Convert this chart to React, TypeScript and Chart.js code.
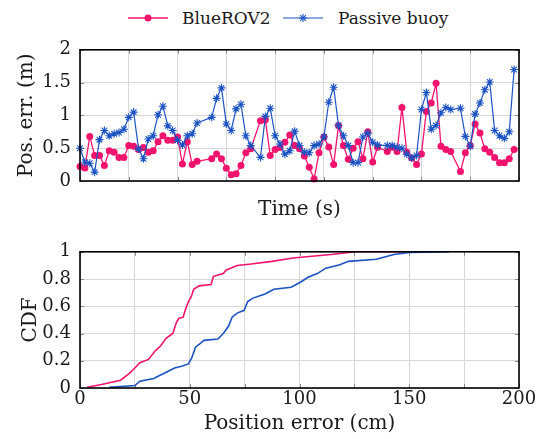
import React, { useEffect, useRef } from 'react';
import { Chart, registerables } from 'chart.js';

Chart.register(...registerables);

const FONT = "'DejaVu Serif'";
const PINK = '#f2136e';
const BLUE = '#1a52c2';
const GRID = '#d8d8d8';
const TEXT = '#1a1a1a';

// Top chart: time (s) and position error (m)
const timeS = [
  0, 5, 10, 15, 20, 25, 30, 35, 40, 45, 50, 55, 60, 65, 70, 75, 80, 85, 90, 95, 100, 105, 110, 115, 120,
  135, 140, 145, 150, 155, 160, 165, 170, 175,
  185, 190, 195, 200, 205, 210, 215, 220, 225, 230, 235, 240, 245, 250, 255, 260, 265, 270, 275, 280, 285, 290, 295, 300, 305,
  315, 320, 325, 330, 335, 340, 345, 350, 355, 360, 365, 370, 375, 380,
  390, 395, 400, 405, 410, 415, 420, 425, 430, 435, 440, 445,
];

const rovErr = [
  0.22, 0.2, 0.68, 0.39, 0.39, 0.235, 0.46, 0.44, 0.36, 0.36, 0.54, 0.53, 0.48, 0.51, 0.44, 0.46, 0.6, 0.69, 0.62, 0.62, 0.67, 0.26, 0.6, 0.25, 0.3,
  0.34, 0.41, 0.34, 0.195, 0.095, 0.11, 0.235, 0.43, 0.49,
  0.92, 0.935, 0.39, 0.48, 0.51, 0.59, 0.7, 0.54, 0.49, 0.38, 0.21, 0.03, 0.43, 0.67, 0.52, 0.25, 0.845, 0.54, 0.33, 0.5, 0.6, 0.34, 0.75, 0.29, 0.515,
  0.45, 0.515, 0.45, 1.12, 0.44, 0.35, 0.25, 0.41, 1.06, 1.19, 1.49, 0.53, 0.48, 0.45,
  0.145, 0.43, 0.54, 0.87, 0.73, 0.49, 0.44, 0.36, 0.28, 0.28, 0.34, 0.48,
];

const buoyErr = [
  0.5, 0.285, 0.27, 0.135, 0.63, 0.77, 0.69, 0.72, 0.74, 0.79, 0.97, 1.05, 0.49, 0.34, 0.64, 0.69, 1.01, 1.14, 0.84, 0.77, 0.62, 0.55, 0.69, 0.72, 0.885,
  0.97, 1.26, 1.42, 0.87, 0.77, 1.1, 1.17, 0.69, 0.54,
  0.36, 0.985, 1.11, 0.69, 0.565, 0.41, 0.46, 0.76, 0.54, 0.44, 0.43, 0.54, 0.565, 0.67, 1.2, 1.43, 0.845, 0.69, 0.54, 0.28, 0.28, 0.67, 0.73, 0.59, 0.55,
  0.54, 0.54, 0.515, 0.5, 0.41, 0.35, 0.39, 1.09, 1.35, 0.79, 0.845, 1.04, 1.12, 1.09,
  1.11, 0.68, 0.53, 1.02, 1.19, 1.39, 1.51, 0.77, 0.69, 0.65, 0.75, 1.7,
];

// Bottom chart: CDF of position error (cm)
const cdfRovX = [3.2, 9.8, 18.5, 22.5, 25, 27.3, 31.2, 34.4, 36.8, 39.2, 42.3, 43.9, 45, 47, 47.9, 49.4, 50.7, 51.8, 54.2, 59.7, 60.8, 65.3, 66.5, 71.6, 77.9, 87.5, 97, 114.4, 125.5, 150];
const cdfRovY = [0.005, 0.026, 0.057, 0.108, 0.147, 0.185, 0.21, 0.275, 0.31, 0.365, 0.4, 0.48, 0.51, 0.52, 0.57, 0.635, 0.67, 0.725, 0.75, 0.76, 0.82, 0.84, 0.865, 0.9, 0.91, 0.93, 0.955, 0.98, 1, 1];
const cdfBuoyX = [13.3, 25, 27.3, 33.6, 36, 38.4, 43.1, 46.3, 49.4, 51, 52.6, 55, 56.5, 62.8, 65.3, 67.7, 69.3, 71.6, 74.8, 76.4, 78.8, 84.3, 88.3, 96.2, 100.2, 104.1, 108.1, 112, 118.4, 122.3, 135, 143, 150, 168.3];
const cdfBuoyY = [0.005, 0.018, 0.05, 0.07, 0.09, 0.108, 0.147, 0.16, 0.177, 0.224, 0.3, 0.33, 0.35, 0.36, 0.4, 0.455, 0.52, 0.55, 0.57, 0.635, 0.66, 0.69, 0.725, 0.74, 0.775, 0.815, 0.84, 0.88, 0.905, 0.93, 0.945, 0.98, 0.995, 1];

const seriesNames = ['BlueROV2', 'Passive buoy'];

const framePlugin = {
  id: 'frame',
  beforeDatasetsDraw(chart: any) {
    const { ctx, chartArea: a, scales } = chart;
    ctx.save();
    ctx.strokeStyle = '#8a8a8a';
    ctx.lineWidth = 1;
    const L = 4;
    const xs = scales.x;
    xs.ticks.forEach((t: any) => {
      const px = Math.round(xs.getPixelForValue(t.value)) + 0.5;
      ctx.beginPath();
      ctx.moveTo(px, a.bottom);
      ctx.lineTo(px, a.bottom - L);
      ctx.moveTo(px, a.top);
      ctx.lineTo(px, a.top + L);
      ctx.stroke();
    });
    const ys = scales.y;
    ys.ticks.forEach((t: any) => {
      const py = Math.round(ys.getPixelForValue(t.value)) + 0.5;
      ctx.beginPath();
      ctx.moveTo(a.left, py);
      ctx.lineTo(a.left + L, py);
      ctx.moveTo(a.right, py);
      ctx.lineTo(a.right - L, py);
      ctx.stroke();
    });
    ctx.restore();
  },
  afterDraw(chart: any) {
    const { ctx, chartArea: a } = chart;
    ctx.save();
    ctx.strokeStyle = '#000';
    ctx.lineWidth = 1.6;
    ctx.strokeRect(a.left, a.top, a.right - a.left, a.bottom - a.top);
    ctx.restore();
  },
};

function TopChart() {
  const ref = useRef<HTMLCanvasElement>(null);
  useEffect(() => {
    const chart = new Chart(ref.current as HTMLCanvasElement, {
      type: 'line',
      data: {
        datasets: [
          {
            label: seriesNames[0],
            data: timeS.map((t, i) => ({ x: t, y: rovErr[i] })),
            borderColor: PINK,
            backgroundColor: PINK,
            borderWidth: 1.3,
            pointStyle: 'circle',
            pointRadius: 3.5,
            pointBorderWidth: 0,
            clip: false,
            order: 1,
          },
          {
            label: seriesNames[1],
            data: timeS.map((t, i) => ({ x: t, y: buoyErr[i] })),
            borderColor: BLUE,
            backgroundColor: BLUE,
            borderWidth: 1.2,
            pointStyle: 'star',
            pointRadius: 4,
            pointBorderWidth: 1.1,
            clip: false,
            order: 0,
          },
        ],
      } as any,
      options: {
        animation: false,
        responsive: false,
        maintainAspectRatio: false,
        layout: { padding: { top: 19, right: 28, left: 0, bottom: 0 } },
        plugins: { legend: { display: false }, tooltip: { enabled: false } },
        scales: {
          x: {
            type: 'linear',
            min: 0,
            max: 450,
            ticks: { stepSize: 50, display: false },
            grid: { color: GRID, drawTicks: false },
            border: { display: false },
            title: {
              display: true,
              text: 'Time (s)',
              color: TEXT,
              font: { family: FONT, size: 20 },
              padding: { top: 0, bottom: 3 },
            },
            afterFit: (s: any) => {
              s.height = 44;
            },
          },
          y: {
            min: 0,
            max: 2,
            ticks: {
              stepSize: 0.5,
              color: TEXT,
              padding: 9,
              font: { family: FONT, size: 18 },
              callback: (v: any) => String(Number(v)),
            },
            grid: { color: GRID, drawTicks: false },
            border: { display: false },
            title: {
              display: true,
              text: 'Pos. err. (m)',
              color: TEXT,
              font: { family: FONT, size: 20 },
              padding: { top: 15, bottom: 0 },
            },
            afterFit: (s: any) => {
              s.width = 80;
            },
          },
        },
      } as any,
      plugins: [framePlugin],
    });
    return () => chart.destroy();
  }, []);
  return <canvas ref={ref} width={547} height={195} style={{ position: 'absolute', left: 0, top: 30 }} />;
}

function BottomChart() {
  const ref = useRef<HTMLCanvasElement>(null);
  useEffect(() => {
    const chart = new Chart(ref.current as HTMLCanvasElement, {
      type: 'line',
      data: {
        datasets: [
          {
            label: seriesNames[0],
            data: cdfRovX.map((x, i) => ({ x, y: cdfRovY[i] })),
            borderColor: PINK,
            borderWidth: 1.6,
            pointRadius: 0,
            order: 1,
          },
          {
            label: seriesNames[1],
            data: cdfBuoyX.map((x, i) => ({ x, y: cdfBuoyY[i] })),
            borderColor: BLUE,
            borderWidth: 1.6,
            pointRadius: 0,
            order: 0,
          },
        ],
      } as any,
      options: {
        animation: false,
        responsive: false,
        maintainAspectRatio: false,
        layout: { padding: { top: 18, right: 28, left: 0, bottom: 0 } },
        plugins: { legend: { display: false }, tooltip: { enabled: false } },
        scales: {
          x: {
            type: 'linear',
            min: 0,
            max: 200,
            ticks: {
              stepSize: 25,
              color: TEXT,
              padding: 1,
              maxRotation: 0,
              autoSkip: false,
              font: { family: FONT, size: 18 },
              callback: (v: any) => (Number(v) % 50 === 0 ? String(Number(v)) : ''),
            },
            grid: { color: GRID, drawTicks: false },
            border: { display: false },
            title: {
              display: true,
              text: 'Position error (cm)',
              color: TEXT,
              font: { family: FONT, size: 20 },
              padding: { top: 0, bottom: 3 },
            },
            afterFit: (s: any) => {
              s.height = 51;
            },
          },
          y: {
            min: 0,
            max: 1,
            ticks: {
              stepSize: 0.2,
              color: TEXT,
              padding: 9,
              font: { family: FONT, size: 18 },
              callback: (v: any) => String(Number(Number(v).toFixed(1))),
            },
            grid: { color: GRID, drawTicks: false },
            border: { display: false },
            title: {
              display: true,
              text: 'CDF',
              color: TEXT,
              font: { family: FONT, size: 20 },
              padding: { top: 19, bottom: 0 },
            },
            afterFit: (s: any) => {
              s.width = 80;
            },
          },
        },
      } as any,
      plugins: [framePlugin],
    });
    return () => chart.destroy();
  }, []);
  return <canvas ref={ref} width={547} height={207} style={{ position: 'absolute', left: 0, top: 232 }} />;
}

function Legend() {
  const textStyle: React.CSSProperties = {
    position: 'absolute',
    top: 5,
    lineHeight: '26px',
    fontFamily: FONT,
    fontSize: 17,
    color: TEXT,
    whiteSpace: 'nowrap',
  };
  return (
    <div style={{ position: 'absolute', left: 0, top: 0, width: 547, height: 30 }}>
      <svg style={{ position: 'absolute', left: 128, top: 8 }} width={40} height={20}>
        <line x1={0} y1={10} x2={40} y2={10} stroke={PINK} strokeWidth={1.3} />
        <circle cx={20} cy={10} r={3.5} fill={PINK} />
      </svg>
      <span style={{ ...textStyle, left: 182 }}>{seriesNames[0]}</span>
      <svg style={{ position: 'absolute', left: 283, top: 8 }} width={40} height={20}>
        <line x1={0} y1={10} x2={40} y2={10} stroke={BLUE} strokeWidth={1.2} />
        <g stroke={BLUE} strokeWidth={1.1}>
          <line x1={16} y1={10} x2={24} y2={10} />
          <line x1={20} y1={6} x2={20} y2={14} />
          <line x1={17.2} y1={7.2} x2={22.8} y2={12.8} />
          <line x1={17.2} y1={12.8} x2={22.8} y2={7.2} />
        </g>
      </svg>
      <span style={{ ...textStyle, left: 338 }}>{seriesNames[1]}</span>
    </div>
  );
}

export default function App() {
  return (
    <div style={{ position: 'fixed', left: 0, top: 0, width: 547, height: 439, background: '#fff', overflow: 'hidden' }}>
      <Legend />
      <TopChart />
      <BottomChart />
    </div>
  );
}
